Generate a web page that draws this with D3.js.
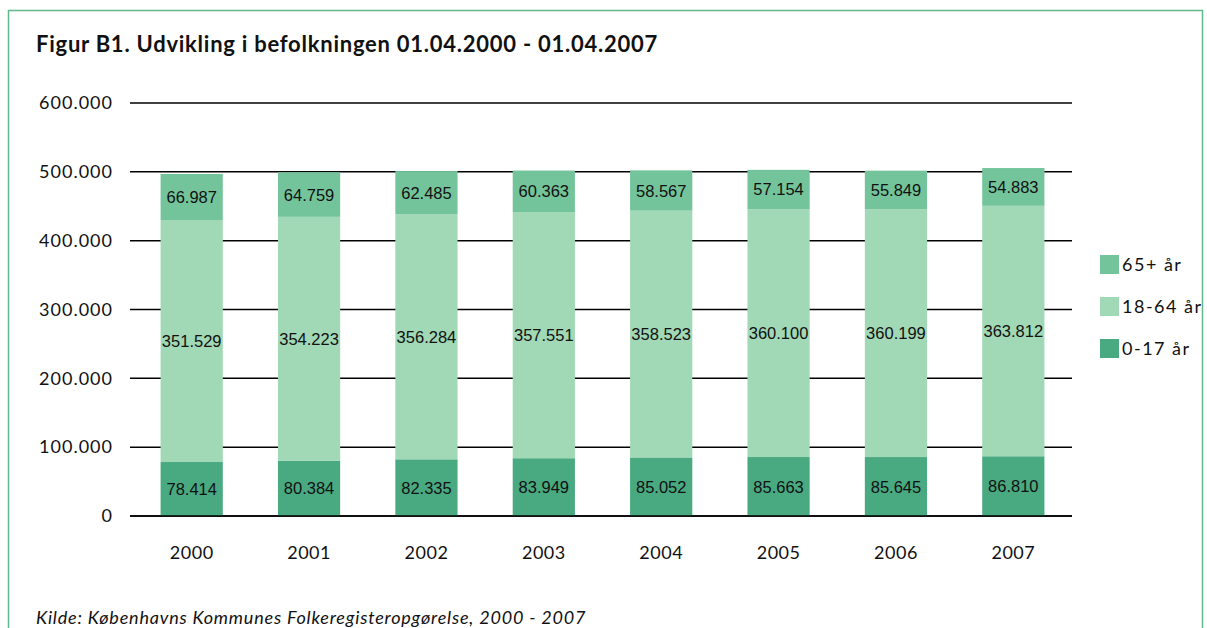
<!DOCTYPE html>
<html><head><meta charset="utf-8">
<script src="https://cdn.jsdelivr.net/npm/d3@7"></script>
<style>body{margin:0;background:#fff}svg{display:block}</style>
</head><body>
<script>
const years = ["2000","2001","2002","2003","2004","2005","2006","2007"];
const age0_17 = [78414,80384,82335,83949,85052,85663,85645,86810];
const age18_64 = [351529,354223,356284,357551,358523,360100,360199,363812];
const age65 = [66987,64759,62485,60363,58567,57154,55849,54883];
const seriesNames = ["0-17 år","18-64 år","65+ år"];
const colors = ["#49a981","#a1d8b5","#74c49b"];
const yTicks = [0,100000,200000,300000,400000,500000,600000];

const W=1207,H=628;
const svg=d3.select("body").append("svg").attr("width",W).attr("height",H);
const gill="'Lato','Open Sans',sans-serif";
svg.append("rect").attr("x",8.5).attr("y",10.5).attr("width",1194).attr("height",640).attr("fill","none").attr("stroke","#5fb88a").attr("stroke-width",1.5);

svg.append("text").attr("x",36).attr("y",52).attr("font-family",gill).attr("font-weight","bold").attr("font-size",22).attr("letter-spacing",0.75).attr("fill","#111").text("Figur B1. Udvikling i befolkningen 01.04.2000 - 01.04.2007");

const x=d3.scaleBand().domain(years).range([133,1072]).paddingInner(0.47).paddingOuter(0.235);
const y=d3.scaleLinear().domain([0,600000]).range([516,103]);

const fmt=v=>d3.format(",")(v).replace(/,/g,".");
svg.append("g").selectAll("line").data(yTicks).join("line")
 .attr("x1",130).attr("x2",1072).attr("y1",d=>y(d)).attr("y2",d=>y(d)).attr("stroke","#000").attr("stroke-width",1.5);
const yAxis=d3.axisLeft(y).tickValues(yTicks).tickSize(0).tickPadding(0).tickFormat(fmt);
const ya=svg.append("g").attr("transform","translate(113,0)").call(yAxis);
ya.select(".domain").remove();
ya.selectAll("text").attr("font-family",gill).attr("font-size",18).attr("letter-spacing",1).attr("fill","#111");

const data=years.map((yr,i)=>({year:yr,a:age0_17[i],b:age18_64[i],c:age65[i]}));
const stack=d3.stack().keys(["a","b","c"])(data);
stack.forEach((s,si)=>{
  const g=svg.append("g");
  g.selectAll("rect").data(s).join("rect")
   .attr("x",d=>x(d.data.year)).attr("width",x.bandwidth())
   .attr("y",d=>y(d[1])).attr("height",d=>y(d[0])-y(d[1])).attr("fill",colors[si]);
  g.selectAll("text").data(s).join("text")
   .attr("x",d=>x(d.data.year)+x.bandwidth()/2).attr("y",d=>(y(d[0])+y(d[1]))/2+6)
   .attr("text-anchor","middle").attr("font-family","'Liberation Sans',Arial,sans-serif").attr("font-size",16.5).attr("fill","#111")
   .text(d=>fmt(d[1]-d[0]));
});
svg.append("line").attr("x1",130).attr("x2",1072).attr("y1",y(0)).attr("y2",y(0)).attr("stroke","#000").attr("stroke-width",1.5);

const xAxis=d3.axisBottom(x).tickSize(0).tickPadding(0);
const xa=svg.append("g").attr("transform","translate(0,545)").call(xAxis);
xa.select(".domain").remove();
xa.selectAll("text").attr("font-family",gill).attr("font-size",18).attr("letter-spacing",0.5).attr("fill","#111").attr("dy","0.8em");

const leg=[{n:"65+ år",c:colors[2],y:255},{n:"18-64 år",c:colors[1],y:297},{n:"0-17 år",c:colors[0],y:339}];
const lg=svg.append("g").selectAll("g").data(leg).join("g");
lg.append("rect").attr("x",1100).attr("y",d=>d.y).attr("width",19).attr("height",19).attr("fill",d=>d.c);
lg.append("text").attr("x",1122).attr("y",d=>d.y+16).attr("font-family",gill).attr("font-size",18).attr("letter-spacing",1.5).attr("fill","#111").text(d=>d.n);

svg.append("text").attr("x",36).attr("y",624).attr("font-family",gill).attr("font-style","italic").attr("font-size",18).attr("letter-spacing",0.8).attr("fill","#111").text("Kilde: Københavns Kommunes Folkeregisteropgørelse, 2000 - 2007");
</script>
</body></html>
